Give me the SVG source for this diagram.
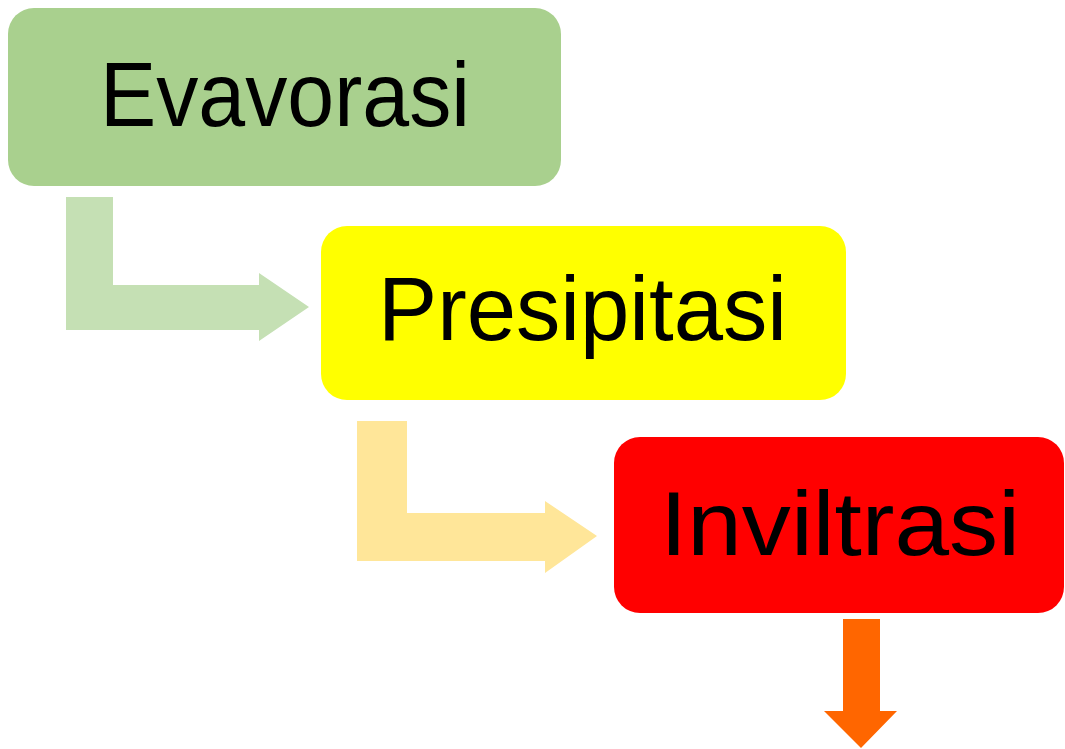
<svg xmlns="http://www.w3.org/2000/svg" width="1065" height="749" viewBox="0 0 1065 749">
<style>
.box{stroke:none}
.lbl{font-family:"Comic Sans MS","Liberation Sans",sans-serif;font-size:90px;fill:#000;text-anchor:start}
</style>
<rect x="0" y="0" width="1065" height="749" fill="#fff"/>
<g id="connectors">
<path d="M66,197 H113 V285 H259 V273 L309,307 L259,341 V330 H66 Z" fill="#c5e0b4"/>
<path d="M357,421 H407 V513 H545 V501 L597,536 L545,573 V561 H357 Z" fill="#ffe699"/>
<path d="M843,619 H880 V711 H897 L861,748 L824,711 H843 Z" fill="#ff6600"/>
</g>
<g id="evavorasi">
<rect class="box" x="8" y="8" width="553" height="178" rx="26" fill="#a9d08e"/>
<text class="lbl" x="100" y="126" textLength="370" lengthAdjust="spacingAndGlyphs">Evavorasi</text>
</g>
<g id="presipitasi">
<rect class="box" x="321" y="226" width="525" height="174" rx="26" fill="#ffff00"/>
<text class="lbl" x="378" y="340" textLength="409" lengthAdjust="spacingAndGlyphs">Presipitasi</text>
</g>
<g id="inviltrasi">
<rect class="box" x="614" y="437" width="450" height="176" rx="26" fill="#ff0000"/>
<text class="lbl" x="660" y="555" textLength="360" lengthAdjust="spacingAndGlyphs">Inviltrasi</text>
</g>
</svg>
